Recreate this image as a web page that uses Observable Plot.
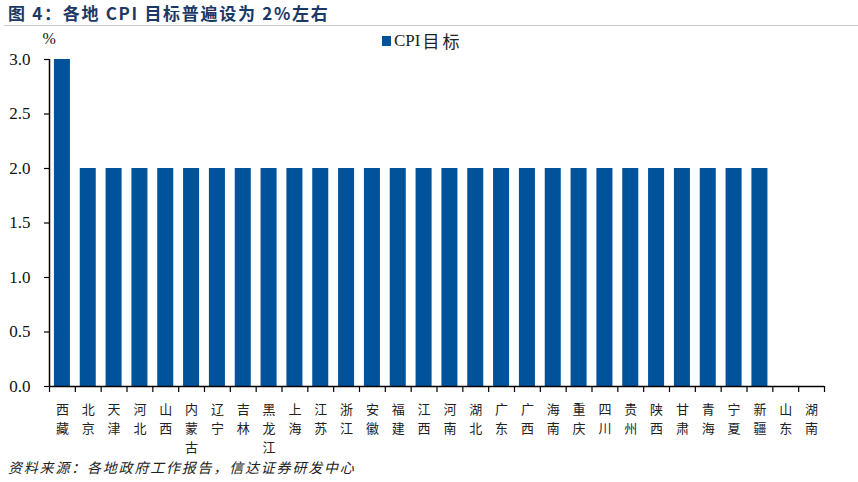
<!DOCTYPE html>
<html><head><meta charset="utf-8">
<script src="https://cdn.jsdelivr.net/npm/d3@7"></script>
<script src="https://cdn.jsdelivr.net/npm/@observablehq/plot@0.6"></script>
<style>
body{margin:0;background:#fff;}
#wrap{position:relative;width:858px;height:482px;overflow:hidden;font-family:"Noto Sans CJK SC",sans-serif;}
#title{position:absolute;left:8px;top:2px;font-size:17px;line-height:22px;font-weight:bold;color:#1c3966;letter-spacing:1.7px;white-space:nowrap;}
#rule{position:absolute;left:4px;right:0;top:25px;height:1px;background:#c8c8c8;}
#legend{position:absolute;left:382px;top:30px;font-size:17px;line-height:22px;color:#222;display:flex;align-items:center;white-space:nowrap;}
#legend .sw{width:9px;height:10px;background:#00529b;margin-right:3px;}
#legend .a{font-family:"Liberation Serif",serif;}
#legend .b{letter-spacing:3px;margin-left:2px;}
#caption{position:absolute;left:8px;top:458px;font-size:14px;line-height:18px;font-style:italic;color:#222;letter-spacing:1.8px;white-space:nowrap;}
#chart{position:absolute;left:0;top:0;}
</style></head>
<body><div id="wrap">
<div id="chart"></div>
<div id="title">图 4：各地 CPI 目标普遍设为 2%左右</div>
<div id="rule"></div>
<div id="legend"><div class="sw"></div><span class="a">CPI</span><span class="b">目标</span></div>
<div id="caption">资料来源：各地政府工作报告，信达证券研发中心</div>
</div>
<script>
const provinces = ["西藏","北京","天津","河北","山西","内蒙古","辽宁","吉林","黑龙江","上海","江苏","浙江","安徽","福建","江西","河南","湖北","广东","广西","海南","重庆","四川","贵州","陕西","甘肃","青海","宁夏","新疆","山东","湖南"];
const cpiTarget = [3.0,2,2,2,2,2,2,2,2,2,2,2,2,2,2,2,2,2,2,2,2,2,2,2,2,2,2,2,null,null];
const yTicks = [0,0.5,1.0,1.5,2.0,2.5,3.0];
const yUnit = "%";

const data = provinces.map((p,i)=>({province:p, value:cpiTarget[i]}));
const W = 858, H = 482, mL = 49, mR = 34, mT = 59, mB = 96;
const step = (W - mL - mR) / provinces.length;
const serif = "Liberation Serif, Times New Roman, serif";

const chart = Plot.plot({
  width: W, height: H,
  marginLeft: mL, marginRight: mR, marginTop: mT, marginBottom: mB,
  style: {fontFamily: serif, color: "#111", background: "transparent"},
  x: {domain: provinces, paddingInner: 0.38, paddingOuter: 0.19, round: false},
  y: {domain: [0,3]},
  marks: [
    Plot.barY(data.filter(d=>d.value!=null), {x:"province", y:"value", fill:"#00529b"}),
    Plot.ruleY([0], {stroke:"#000", strokeWidth:1.5}),
    Plot.axisY({ticks: yTicks, tickFormat: d3.format(".1f"), tickSize: 5, tickPadding: 14, fontSize: 17, fontFamily: serif, fill:"#111", stroke:"#000", strokeWidth:1.2, label: null}),
    Plot.ruleX([provinces[0]], {x: d=>d, dx: -step/2, y1: 0, y2: 3, stroke:"#000", strokeWidth:1.5}),
    Plot.text([yUnit], {frameAnchor:"top-left", dx: -7, dy: -27, fontSize: 16, fontFamily: serif, fill:"#111", text: d=>d}),
    Plot.axisX({tickSize: 6, dx: -step/2, text: null, stroke:"#000", strokeWidth:1.2, label:null}),
    Plot.axisX([provinces[provinces.length-1]], {tickSize: 6, dx: step/2, text: null, stroke:"#000", strokeWidth:1.2, label:null}),
    Plot.axisX({tickSize: 0, tickPadding: 14, tickFormat: d=>d.split("").join("\n"), lineHeight: 1.45, fontSize: 13, fontFamily: "'Noto Sans CJK SC', sans-serif", fill:"#222", label: null})
  ]
});
document.getElementById("chart").appendChild(chart);
</script>
</body></html>
